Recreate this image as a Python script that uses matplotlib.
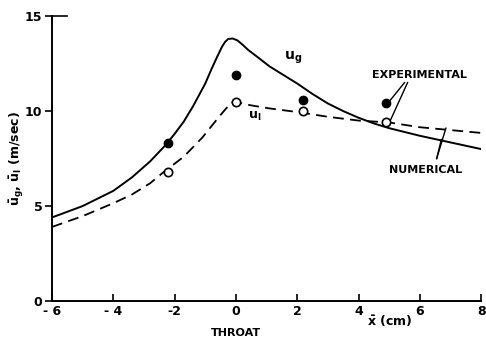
import matplotlib.pyplot as plt

# numerical curves
x_g = [-6, -5, -4, -3.4, -2.8, -2.3, -2.0, -1.7, -1.4, -1.2, -1.0, -0.8, -0.6, -0.45, -0.35,
       -0.25, -0.1, 0.05, 0.2, 0.4, 0.7, 1.1, 1.5, 2, 2.5, 3, 3.5, 4, 4.5, 5, 6, 7, 8]
u_g = [4.4, 5.0, 5.8, 6.5, 7.35, 8.2, 8.8, 9.45, 10.25, 10.85, 11.45, 12.2, 12.9, 13.4, 13.65,
       13.8, 13.82, 13.72, 13.52, 13.22, 12.85, 12.35, 11.95, 11.45, 10.9, 10.4, 10.0, 9.65, 9.35, 9.1, 8.7, 8.35, 8.0]

x_l = [-6, -5, -4, -3.4, -2.8, -2.35, -1.7, -1.1, -0.5, -0.15, 0, 0.2, 0.5, 1.1, 2, 3, 4, 5, 6, 7, 8]
u_l = [3.9, 4.47, 5.15, 5.6, 6.2, 6.8, 7.6, 8.6, 9.8, 10.45, 10.5, 10.4, 10.3, 10.14, 9.95, 9.7, 9.5, 9.4, 9.15, 9.0, 8.85]

# experimental points
x_exp = [-2.2, 0, 2.2, 4.9]
ug_exp = [8.3, 11.9, 10.6, 10.4]
ul_exp = [6.8, 10.5, 10.0, 9.45]

xticks = [-6, -4, -2, 0, 2, 4, 6, 8]
xtick_labels = ['- 6', '- 4', '-2', '0', '2', '4', '6', '8']
yticks = [0, 5, 10, 15]

plt.rcParams['font.family'] = 'DejaVu Sans'
plt.rcParams['font.weight'] = 'bold'
plt.rcParams['mathtext.default'] = 'bf'

fig = plt.figure(figsize=(4.86, 3.43), dpi=100)
ax = fig.add_axes([0.107, 0.1224, 0.883, 0.8306])

ax.plot(x_g, u_g, color='black', lw=1.4)
ax.plot(x_l, u_l, color='black', lw=1.3, linestyle=(0, (6, 3.5)))
ax.plot(x_exp, ug_exp, 'o', color='black', markersize=6)
ax.plot(x_exp, ul_exp, 'o', markerfacecolor='white', markeredgecolor='black',
        markeredgewidth=1.2, markersize=6)

ax.set_xlim(-6, 8)
ax.set_ylim(0, 15)
ax.set_xticks(xticks)
ax.set_yticks(yticks)
ax.set_xticklabels(xtick_labels)
ax.tick_params(axis='x', direction='in', length=5, width=1.2, labelsize=9, pad=3)
ax.tick_params(axis='y', direction='out', length=5, width=1.2, labelsize=9, pad=2)
ax.spines['top'].set_visible(False)
ax.spines['right'].set_visible(False)
ax.spines['left'].set_linewidth(1.4)
ax.spines['bottom'].set_linewidth(1.4)
ax.plot([-6, -5.5], [15, 15], color='black', lw=1.2, clip_on=False)

ax.set_ylabel(r'$\bar{u}_g$, $\bar{u}_l$ (m/sec)', fontsize=9, fontweight='bold')
ax.yaxis.set_label_coords(-0.06, 0.5)

ax.text(5.0, -1.1, r'$\bar{x}$ (cm)', fontsize=9, ha='center', va='center')
ax.text(0, -1.7, 'THROAT', fontsize=8, ha='center', va='center')
ax.text(1.85, 12.8, r'$u_g$', fontsize=10, ha='center', va='center')
ax.text(0.6, 9.7, r'$u_l$', fontsize=9, ha='center', va='center')

ax.text(6.0, 11.9, 'EXPERIMENTAL', fontsize=8, ha='center', va='center')
ax.plot([5.5, 5.0], [11.5, 10.5], color='black', lw=1)
ax.plot([5.6, 5.05], [11.5, 9.55], color='black', lw=1)

ax.text(6.2, 6.9, 'NUMERICAL', fontsize=8, ha='center', va='center')
ax.plot([6.55, 6.85], [7.5, 9.1], color='black', lw=1)
ax.plot([6.55, 6.7], [7.5, 8.5], color='black', lw=1)

fig.savefig('out.png', dpi=100)
